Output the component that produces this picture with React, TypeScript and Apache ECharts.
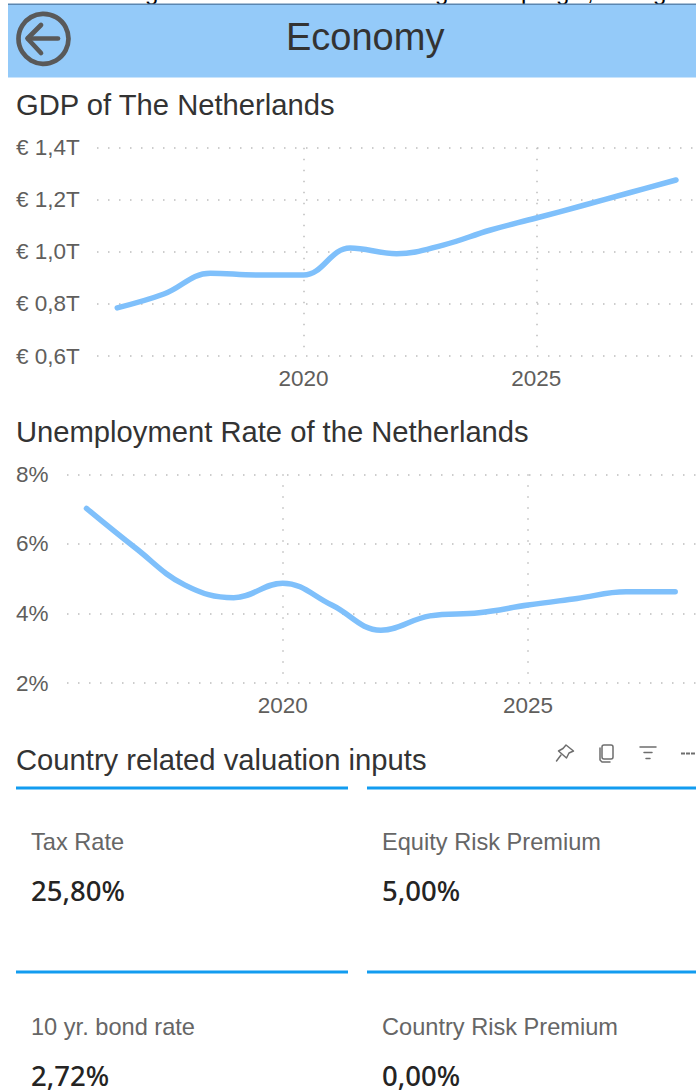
import React, { useEffect, useRef } from "react";
import * as echarts from "echarts";

// Annual series, 2016 to 2028
const years = [2016, 2017, 2018, 2019, 2020, 2021, 2022, 2023, 2024, 2025, 2026, 2027, 2028];
const gdpTrillions = [0.785, 0.838, 0.918, 0.911, 0.911, 1.015, 0.993, 1.026, 1.083, 1.13, 1.178, 1.227, 1.276];
const unemploymentPct = [7.02, 5.88, 4.82, 4.45, 4.87, 4.24, 3.52, 3.93, 4.02, 4.24, 4.43, 4.62, 4.62];
const labelledYears = [2020, 2025];

const pageTitle = "Economy";
const gdpTitle = "GDP of The Netherlands";
const unemploymentTitle = "Unemployment Rate of the Netherlands";
const valuationTitle = "Country related valuation inputs";
const kpiLabels = ["Tax Rate", "Equity Risk Premium", "10 yr. bond rate", "Country Risk Premium"];
const kpiValues = ["25,80%", "5,00%", "2,72%", "0,00%"];

const SANS = "'Liberation Sans', Arial, sans-serif";
const KPI_FONT = "'Noto Sans', 'Open Sans', sans-serif";
const LINE = "#7fc0fb";
const DOTS = "#bdbdbd";
const AXIS_TEXT = "#605e5c";
const TITLE_TEXT = "#333333";
const ICON = "#595959";
const DOT_LINE = { color: DOTS, width: 1.5, type: [1.5, 9.5] };

function xAxisFor(gridIndex: number, min: number, max: number) {
  return {
    type: "value",
    gridIndex,
    min,
    max,
    axisLine: { show: false },
    axisTick: { show: false, customValues: labelledYears },
    axisLabel: {
      customValues: labelledYears,
      formatter: (v: number) => String(v),
      color: AXIS_TEXT,
      fontFamily: SANS,
      fontSize: 22.5,
      margin: 11,
    },
    splitLine: { show: true, lineStyle: DOT_LINE },
  };
}

function yAxisFor(gridIndex: number, min: number, max: number, interval: number, margin: number, formatter: (v: number) => string) {
  return {
    type: "value",
    gridIndex,
    min,
    max,
    interval,
    axisLine: { show: false },
    axisTick: { show: false },
    axisLabel: {
      formatter,
      color: AXIS_TEXT,
      fontFamily: SANS,
      fontSize: 22.5,
      align: "left",
      margin,
      padding: [4, 0, 0, 0],
    },
    splitLine: { show: true, lineStyle: DOT_LINE },
  };
}

function lineSeries(index: number, values: number[]) {
  return {
    type: "line",
    xAxisIndex: index,
    yAxisIndex: index,
    data: years.map((y, i) => [y, values[i]]),
    smooth: 0.4,
    showSymbol: false,
    lineStyle: { color: LINE, width: 5.5, cap: "round", join: "round" },
    itemStyle: { color: LINE },
  };
}

function label(text: string, x: number, y: number, font: string, fill: string, lineHeight: number) {
  return {
    type: "text",
    x,
    y,
    style: { text, font, fill, lineHeight, verticalAlign: "middle", align: "left" },
  };
}

function stroke(color: string, width: number) {
  return { stroke: color, lineWidth: width, fill: "none", lineCap: "round", lineJoin: "round" };
}

function pageDecor() {
  const kpiX = [31, 382];
  const kpiLabelY = [842, 1027];
  const kpiValueY = [890, 1075];
  const ruleY = [788, 972];
  const descenders: [string, number][] = [["g", 145], ["g", 435], ["p", 521], ["g", 556], [",", 587], ["g", 653]];

  const elements: any[] = [];

  // Clipped line of page text sitting above the header band
  descenders.forEach(([ch, x]) => {
    elements.push({
      type: "text",
      x,
      y: -8.7,
      style: { text: ch, font: `24px ${SANS}`, fill: "#000000", lineHeight: 24, verticalAlign: "middle", align: "left" },
    });
  });

  // Header band
  elements.push({ type: "rect", shape: { x: 8, y: 4, width: 688, height: 73.5 }, style: { fill: "#94caf9" } });
  elements.push({ type: "rect", shape: { x: 8, y: 3.5, width: 688, height: 1.5 }, style: { fill: "#5b86b0" } });

  // Back button
  elements.push({ type: "circle", shape: { cx: 43.5, cy: 38.8, r: 25 }, style: stroke(ICON, 4.7) });
  elements.push({ type: "line", shape: { x1: 58, y1: 38.5, x2: 28, y2: 38.5 }, style: stroke(ICON, 4.7) });
  elements.push({ type: "polyline", shape: { points: [[41, 25], [27.5, 38.5], [41, 53]] }, style: stroke(ICON, 4.7) });

  elements.push(label(pageTitle, 286, 37, `38px ${SANS}`, TITLE_TEXT, 38));
  elements.push(label(gdpTitle, 16, 104.5, `29.2px ${SANS}`, TITLE_TEXT, 30));
  elements.push(label(unemploymentTitle, 16, 431.5, `29.2px ${SANS}`, TITLE_TEXT, 30));
  elements.push(label(valuationTitle, 16, 759.5, `29.2px ${SANS}`, TITLE_TEXT, 30));

  // Visual header icons: pin, copy, filter, more
  const iconStyle = stroke("#6e6e6e", 1.5);
  elements.push({
    type: "polygon",
    shape: { points: [[566, 745], [573.5, 751], [569, 753], [566.5, 758], [558.5, 751], [563, 748.5]] },
    style: iconStyle,
  });
  elements.push({ type: "line", shape: { x1: 561, y1: 755, x2: 556.5, y2: 761 }, style: iconStyle });
  elements.push({ type: "rect", shape: { x: 602, y: 745, width: 11, height: 14, r: 2 }, style: iconStyle });
  elements.push({ type: "polyline", shape: { points: [[600, 748], [600, 760], [602, 762], [610, 762]] }, style: iconStyle });
  elements.push({ type: "line", shape: { x1: 640, y1: 747, x2: 656, y2: 747 }, style: iconStyle });
  elements.push({ type: "line", shape: { x1: 644, y1: 752.5, x2: 652, y2: 752.5 }, style: iconStyle });
  elements.push({ type: "line", shape: { x1: 646, y1: 758.5, x2: 650, y2: 758.5 }, style: iconStyle });
  elements.push({
    type: "line",
    shape: { x1: 681, y1: 753.5, x2: 696, y2: 753.5 },
    style: { stroke: "#6e6e6e", lineWidth: 2.2, lineDash: [4, 1] },
  });

  // KPI cards
  ruleY.forEach((y) => {
    elements.push({ type: "rect", shape: { x: 16, y: y - 1.5, width: 332, height: 3 }, style: { fill: "#129cf0" } });
    elements.push({ type: "rect", shape: { x: 367, y: y - 1.5, width: 329, height: 3 }, style: { fill: "#129cf0" } });
  });
  kpiLabels.forEach((text, i) => {
    const col = i % 2;
    const row = Math.floor(i / 2);
    elements.push(label(text, kpiX[col], kpiLabelY[row], `23.6px ${SANS}`, "#666666", 24));
    elements.push(label(kpiValues[i], kpiX[col], kpiValueY[row], `500 27.5px ${KPI_FONT}`, "#252423", 28));
  });

  return elements;
}

export default function App() {
  const ref = useRef<HTMLDivElement>(null);

  useEffect(() => {
    const chart = echarts.init(ref.current!, undefined, { renderer: "svg" });
    chart.setOption({
      animation: false,
      backgroundColor: "#ffffff",
      grid: [
        { left: 97, right: 0, top: 147.7, height: 208.3 },
        { left: 67, right: 0, top: 474.3, height: 208.7 },
      ],
      xAxis: [xAxisFor(0, 2015.565, 2028.43), xAxisFor(1, 2015.603, 2028.424)],
      yAxis: [
        yAxisFor(0, 0.6, 1.4, 0.2, 81, (v) => `€ ${v.toFixed(1).replace(".", ",")}T`),
        yAxisFor(1, 2, 8, 2, 51, (v) => `${v}%`),
      ],
      series: [lineSeries(0, gdpTrillions), lineSeries(1, unemploymentPct)],
      graphic: { elements: pageDecor() },
    });
    return () => chart.dispose();
  }, []);

  return <div ref={ref} style={{ position: "fixed", left: 0, top: 0, width: 696, height: 1091 }} />;
}
